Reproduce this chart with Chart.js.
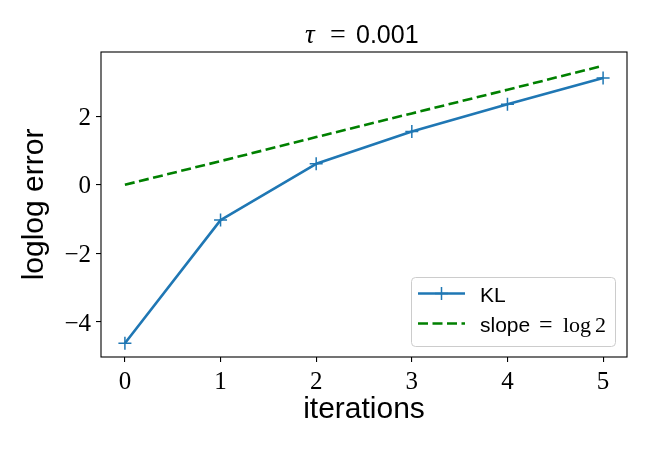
<!DOCTYPE html>
<html><head><meta charset="utf-8">
<script src="https://cdn.jsdelivr.net/npm/chart.js@4/dist/chart.umd.min.js"></script>
<style>html,body{margin:0;padding:0;background:#fff}canvas{display:block}</style>
</head><body>
<canvas id="c" width="650" height="450"></canvas>
<script>
// ---- data ----
const iterations = [0, 1, 2, 3, 4, 5];
const klValues = [-4.62, -1.03, 0.61, 1.55, 2.35, 3.11];
const slopeValues = [0, 0.69, 1.39, 2.08, 2.77, 3.47];
const xTickValues = [0, 1, 2, 3, 4, 5];
const yTickValues = [-4, -2, 0, 2];
const seriesLabels = ['KL', 'slope = log 2'];
const titleText = 'τ = 0.001';
const xAxisTitle = 'iterations';
const yAxisTitle = 'loglog error';

const SANS = '"Liberation Sans", Arial, sans-serif';
const SERIF = '"Liberation Serif", "Times New Roman", serif';
Chart.defaults.font.family = SANS;
Chart.defaults.color = '#000';

const toPts = ys => iterations.map((x, i) => ({x: x, y: ys[i]}));

const framePlugin = {
  id: 'frame',
  afterDatasetsDraw(chart) {
    const {ctx, chartArea: a} = chart;
    ctx.save();
    ctx.strokeStyle = '#000';
    ctx.lineWidth = 1.1;
    ctx.strokeRect(a.left, a.top, a.right - a.left, a.bottom - a.top);
    ctx.restore();
  }
};

const titlePlugin = {
  id: 'mixedTitle',
  afterDraw(chart) {
    const ctx = chart.ctx;
    const parts = titleText.split(' '); // ['τ','=','0.001']
    ctx.save();
    ctx.fillStyle = '#000';
    ctx.textBaseline = 'alphabetic';
    const base = 43;
    ctx.font = 'italic 27px ' + SERIF;
    ctx.fillText(parts[0], 305, base);
    ctx.font = '28px ' + SERIF;
    ctx.fillText(parts[1], 330, base);
    ctx.font = '25px ' + SANS;
    ctx.fillText(parts[2], 356, base);
    ctx.restore();
  }
};

const legendPlugin = {
  id: 'mplLegend',
  afterDraw(chart) {
    const ctx = chart.ctx;
    const bx = 411, by = 277, bw = 204, bh = 69, r = 4;
    ctx.save();
    ctx.beginPath();
    ctx.roundRect(bx + 0.5, by + 0.5, bw, bh, r);
    ctx.fillStyle = 'rgba(255,255,255,0.8)';
    ctx.fill();
    ctx.strokeStyle = '#cccccc';
    ctx.lineWidth = 1;
    ctx.stroke();
    const rows = [293.5, 323.5];
    chart.data.datasets.forEach((ds, i) => {
      const y = rows[i];
      ctx.save();
      ctx.strokeStyle = ds.borderColor;
      ctx.lineWidth = ds.borderWidth;
      ctx.setLineDash(ds.borderDash || []);
      ctx.beginPath();
      ctx.moveTo(418, y);
      ctx.lineTo(465, y);
      ctx.stroke();
      ctx.restore();
      if (ds.pointRadius > 0) {
        ctx.save();
        ctx.strokeStyle = ds.pointBorderColor;
        ctx.lineWidth = ds.pointBorderWidth;
        ctx.beginPath();
        ctx.moveTo(441.5 - ds.pointRadius, y); ctx.lineTo(441.5 + ds.pointRadius, y);
        ctx.moveTo(441.5, y - ds.pointRadius); ctx.lineTo(441.5, y + ds.pointRadius);
        ctx.stroke();
        ctx.restore();
      }
      ctx.fillStyle = '#000';
      ctx.textBaseline = 'alphabetic';
      const baseY = y + 8.2;
      const label = ds.label;
      if (label.indexOf('=') < 0) {
        ctx.font = '21px ' + SANS;
        ctx.fillText(label, 480, baseY);
      } else {
        const p = label.split(' '); // slope, =, log, 2
        ctx.font = '21px ' + SANS;
        ctx.fillText(p[0], 480, baseY);
        ctx.font = '24px ' + SERIF;
        ctx.fillText(p[1], 539, baseY);
        ctx.font = '22px ' + SERIF;
        ctx.fillText(p[2], 563, baseY);
        ctx.fillText(p[3], 595, baseY);
      }
    });
    ctx.restore();
  }
};

new Chart(document.getElementById('c'), {
  type: 'scatter',
  data: {
    datasets: [
      {
        label: seriesLabels[0],
        data: toPts(klValues),
        showLine: true,
        borderColor: '#1f77b4',
        backgroundColor: '#1f77b4',
        borderWidth: 2.6,
        borderJoinStyle: 'round',
        pointStyle: 'cross',
        pointRadius: 6.5,
        pointHoverRadius: 6.5,
        pointBorderColor: '#1f77b4',
        pointBorderWidth: 1.5,
        clip: false
      },
      {
        label: seriesLabels[1],
        data: toPts(slopeValues),
        showLine: true,
        borderColor: '#008000',
        backgroundColor: '#008000',
        borderWidth: 2.6,
        borderDash: [10, 4.5],
        pointRadius: 0,
        pointHoverRadius: 0,
        clip: false
      }
    ]
  },
  options: {
    responsive: false,
    animation: false,
    events: [],
    layout: {padding: {top: 52, right: 23, left: 0, bottom: 0}},
    plugins: {legend: {display: false}, title: {display: false}, tooltip: {enabled: false}},
    scales: {
      x: {
        type: 'linear',
        min: -0.25, max: 5.25,
        afterBuildTicks: s => { s.ticks = xTickValues.map(v => ({value: v})); },
        afterFit: s => { s.height = 93; },
        ticks: {
          font: {family: SERIF, size: 25},
          padding: 5,
          maxRotation: 0,
          autoSkip: false,
          callback: v => String(v)
        },
        grid: {display: true, drawOnChartArea: false, drawTicks: true, tickLength: 5, color: '#000', lineWidth: 1.1},
        border: {display: false},
        title: {display: true, text: xAxisTitle, font: {family: SANS, size: 30}, padding: {top: 0, bottom: 22}, color: '#000'}
      },
      y: {
        type: 'linear',
        min: -5.02, max: 3.87,
        afterBuildTicks: s => { s.ticks = yTickValues.map(v => ({value: v})); },
        afterFit: s => { s.width = 101; },
        ticks: {
          font: {family: SERIF, size: 25},
          padding: 5,
          labelOffset: 2,
          autoSkip: false,
          callback: v => (v < 0 ? '\u2212' + Math.abs(v) : String(v))
        },
        grid: {display: true, drawOnChartArea: false, drawTicks: true, tickLength: 5, color: '#000', lineWidth: 1.1},
        border: {display: false},
        title: {display: true, text: yAxisTitle, font: {family: SANS, size: 30}, padding: {top: 17, bottom: 0}, color: '#000'}
      }
    }
  },
  plugins: [framePlugin, titlePlugin, legendPlugin]
});
</script>
</body></html>
